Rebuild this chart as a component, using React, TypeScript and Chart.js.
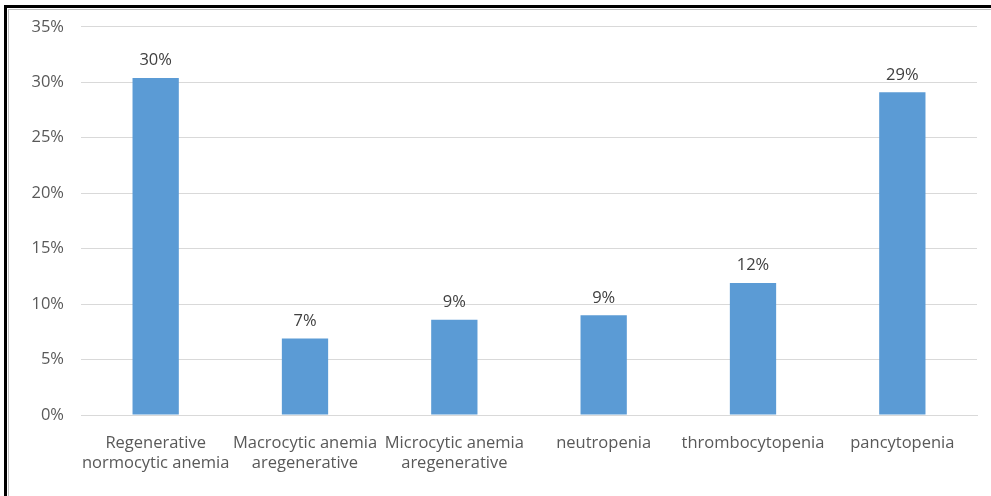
import React, { useEffect, useRef } from "react";
import { Chart, registerables } from "chart.js";

Chart.register(...registerables);

const categories: string[][] = [
  ["Regenerative", "normocytic anemia"],
  ["Macrocytic anemia", "aregenerative"],
  ["Microcytic anemia", "aregenerative"],
  ["neutropenia"],
  ["thrombocytopenia"],
  ["pancytopenia"],
];
const values: number[] = [30.4, 6.9, 8.6, 9.0, 11.9, 29.1];
const dataLabels: string[] = ["30%", "7%", "9%", "9%", "12%", "29%"];
const yTicks: number[] = [0, 5, 10, 15, 20, 25, 30, 35];

const FONT = "'Open Sans', Lato, sans-serif";
const TEXT = "#595959";
const SIZE = 16.5;

const labelPlugin = {
  id: "barLabels",
  afterDatasetsDraw(chart: any) {
    const ctx = chart.ctx;
    const meta = chart.getDatasetMeta(0);
    ctx.save();
    ctx.font = `${SIZE}px ${FONT}`;
    ctx.fillStyle = "#404040";
    ctx.textAlign = "center";
    ctx.textBaseline = "bottom";
    meta.data.forEach((el: any, i: number) => {
      ctx.fillText(dataLabels[i], el.x, el.y - 9);
    });
    ctx.restore();
  },
};

export default function App() {
  const ref = useRef<HTMLCanvasElement>(null);
  useEffect(() => {
    if (!ref.current) return;
    const chart = new Chart(ref.current, {
      type: "bar",
      data: {
        labels: categories,
        datasets: [
          {
            data: values,
            backgroundColor: "#5B9BD5",
            barPercentage: 0.31,
            categoryPercentage: 1,
          },
        ],
      },
      options: {
        animation: false,
        responsive: false,
        maintainAspectRatio: false,
        layout: { padding: { left: 0, right: 14, top: 25, bottom: 0 } },
        plugins: { legend: { display: false }, tooltip: { enabled: false } },
        scales: {
          x: {
            grid: { display: false, drawTicks: false },
            border: { display: true, color: "#d9d9d9", width: 1 },
            ticks: {
              color: TEXT,
              font: { family: FONT, size: SIZE, lineHeight: 1.22 },
              padding: 18,
              maxRotation: 0,
              autoSkip: false,
            },
            afterFit(scale: any) {
              scale.height = 81;
            },
          },
          y: {
            min: 0,
            max: 35,
            afterBuildTicks(scale: any) {
              scale.ticks = yTicks.map((v) => ({ value: v }));
            },
            grid: { color: "#d9d9d9", drawTicks: false, lineWidth: 1 },
            border: { display: false },
            ticks: {
              color: TEXT,
              font: { family: FONT, size: SIZE },
              padding: 17,
              callback: (v: any) => v + "%",
            },
            afterFit(scale: any) {
              scale.width = 81;
            },
          },
        },
      },
      plugins: [labelPlugin],
    });
    return () => chart.destroy();
  }, []);

  return (
    <div style={{ position: "fixed", left: 0, top: 0, width: 991, height: 496, background: "#fff", overflow: "hidden" }}>
      <div
        style={{
          position: "absolute",
          left: 4,
          top: 5,
          width: 1100,
          height: 600,
          borderLeft: "3px solid #000",
          borderTop: "3px solid #000",
        }}
      />
      <div
        style={{
          position: "absolute",
          left: 8,
          top: 9,
          width: 1100,
          height: 600,
          borderLeft: "1px solid #bfbfbf",
          borderTop: "1px solid #bfbfbf",
        }}
      />
      <canvas ref={ref} width={991} height={496} style={{ position: "absolute", left: 0, top: 0 }} />
    </div>
  );
}
